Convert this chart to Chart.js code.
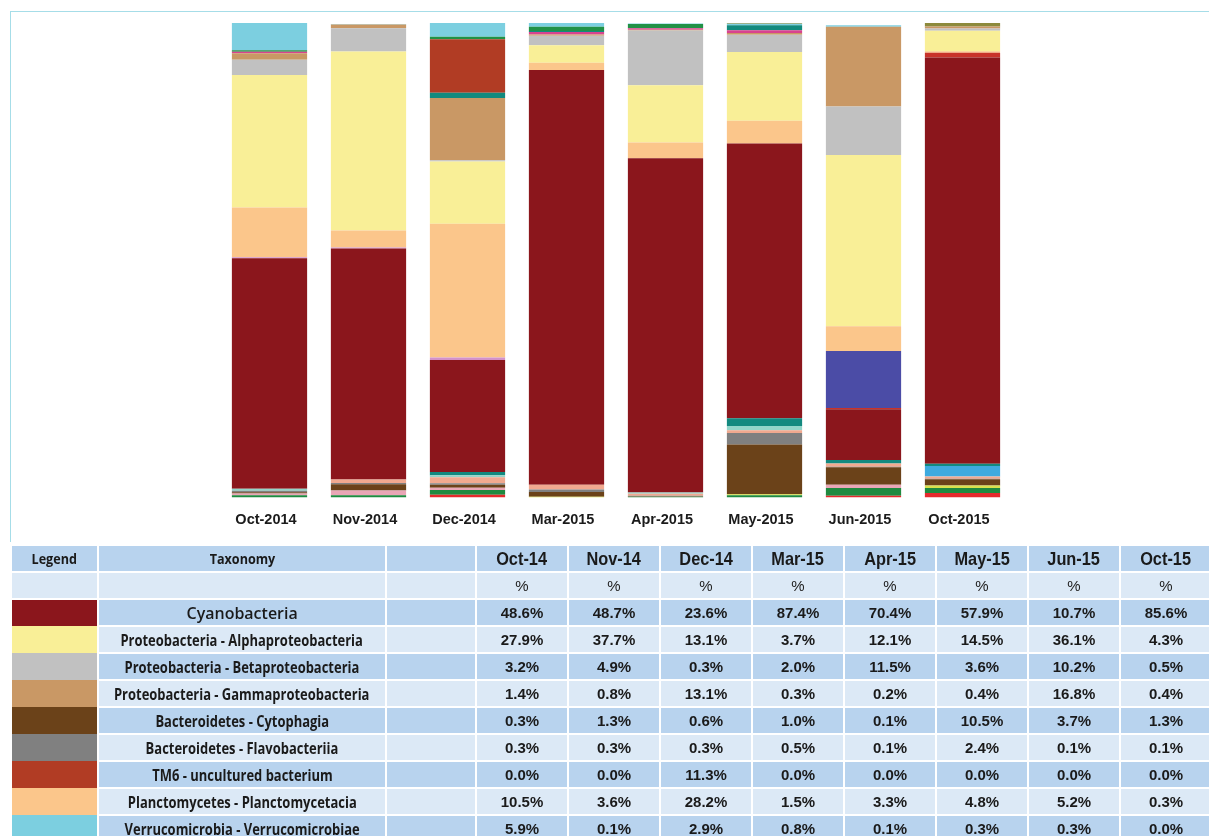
<!DOCTYPE html>
<html>
<head>
<meta charset="utf-8">
<script src="https://cdn.jsdelivr.net/npm/chart.js@4.4.0/dist/chart.umd.min.js"></script>
<style>
  body { margin: 0; background: #fff; width: 1209px; height: 836px; overflow: hidden; position: relative; font-family: "Liberation Sans", Arial, sans-serif; }
  #frame { position: absolute; left: 10px; top: 11px; width: 1199px; height: 530px; border-left: 1px solid #a6dde8; border-top: 1px solid #a6dde8; }
  #chartBox { position: absolute; left: 0; top: 0; width: 1209px; height: 556px; }
  #tbl { position: absolute; left: 10px; top: 544px; width: 1201px; border-collapse: collapse; table-layout: fixed; color: #1a1a1a; }
  #tbl td { border: 2px solid #fff; height: 25px; padding: 0; text-align: center; font-weight: bold; white-space: nowrap; overflow: hidden; }
  #tbl .dark td { background: #b8d3ee; }
  #tbl .light td { background: #dce9f6; }
  #tbl td.sw { border-top: 0; border-bottom: 0; }
  #tbl span { display: inline-block; margin: 0 -60px; }
  .hdr { font-family: "Open Sans", sans-serif; font-size: 14px; }
  .hdr span { transform: scaleX(0.9); }
  .mon { font-size: 19px; }
  .mon span { transform: scaleX(0.86); }
  .num { font-size: 15px; }
  .pct { font-weight: normal !important; color: #222; }
  .tax { font-family: "Open Sans", sans-serif; font-size: 16px; }
  .tax span { transform: scaleX(0.81); }
  .cyano { font-family: "Open Sans", sans-serif; font-size: 17px; font-weight: 600 !important; }
  .cyano span { transform: scaleX(0.94); }
</style>
</head>
<body>
<div id="frame"></div>
<div id="chartBox"><canvas id="myChart" width="1209" height="556"></canvas></div>
<table id="tbl"></table>
<script>
// sampling dates
var months = ['Oct-2014', 'Nov-2014', 'Dec-2014', 'Mar-2015', 'Apr-2015', 'May-2015', 'Jun-2015', 'Oct-2015'];
var tableMonths = ['Oct-14', 'Nov-14', 'Dec-14', 'Mar-15', 'Apr-15', 'May-15', 'Jun-15', 'Oct-15'];

// taxa listed in the table (% of reads)
var cyanobacteria    = [48.6, 48.7, 23.6, 87.4, 70.4, 57.9, 10.7, 85.6];
var alphaproteo      = [27.9, 37.7, 13.1, 3.7, 12.1, 14.5, 36.1, 4.3];
var betaproteo       = [3.2, 4.9, 0.3, 2.0, 11.5, 3.6, 10.2, 0.5];
var gammaproteo      = [1.4, 0.8, 13.1, 0.3, 0.2, 0.4, 16.8, 0.4];
var cytophagia       = [0.3, 1.3, 0.6, 1.0, 0.1, 10.5, 3.7, 1.3];
var flavobacteriia   = [0.3, 0.3, 0.3, 0.5, 0.1, 2.4, 0.1, 0.1];
var tm6              = [0.0, 0.0, 11.3, 0.0, 0.0, 0.0, 0.0, 0.0];
var planctomycetacia = [10.5, 3.6, 28.2, 1.5, 3.3, 4.8, 5.2, 0.3];
var verrucomicrobiae = [5.9, 0.1, 2.9, 0.8, 0.1, 0.3, 0.3, 0.0];

// other minor taxa seen only in the bars
var otherRed        = [0, 0, 0.6, 0, 0, 0, 0.4, 0.95];
var otherGreen      = [0.5, 0.5, 1.0, 0, 0.2, 0.5, 1.6, 1.05];
var otherLime       = [0, 0, 0, 0.2, 0, 0.2, 0, 0.55];
var otherPink       = [0.35, 1.0, 0.5, 0, 0, 0, 0.7, 0];
var otherSalmon     = [0, 0.7, 1.3, 1.0, 0.4, 0.6, 0.7, 0.5];
var otherAqua       = [0.4, 0, 0.4, 0, 0.3, 0.9, 0, 0];
var otherSky        = [0, 0, 0, 0, 0, 0, 0, 2.2];
var otherTeal       = [0, 0, 0.7, 0, 0, 1.6, 0.7, 0.5];
var otherScarlet    = [0, 0, 0, 0, 0, 0, 0.3, 1.0];
var otherViolet     = [0, 0, 0, 0, 0, 0, 12.0, 0];
var otherLilac      = [0.2, 0.2, 0.5, 0, 0, 0, 0, 0];
var otherMagenta    = [0.3, 0, 0, 0.5, 0.3, 0.55, 0, 0];
var otherTealTop    = [0, 0, 1.1, 0.2, 0, 1.1, 0, 0];
var otherGreenTop   = [0.3, 0, 0.5, 0.9, 0.9, 0, 0, 0];
var otherOlive      = [0, 0, 0, 0, 0, 0.35, 0, 0.75];

// stacking order, bottom to top
var series = [
    { label: 'Other', data: otherRed, color: '#e5292c' },
    { label: 'Other', data: otherGreen, color: '#1f8a40' },
    { label: 'Other', data: otherLime, color: '#d9e24c' },
    { label: 'Other', data: otherPink, color: '#e9a6b6' },
    { label: 'Bacteroidetes - Cytophagia', data: cytophagia, color: '#6b4219' },
    { label: 'Bacteroidetes - Flavobacteriia', data: flavobacteriia, color: '#808080' },
    { label: 'Other', data: otherSalmon, color: '#f1a98f' },
    { label: 'Other', data: otherAqua, color: '#92d5c9' },
    { label: 'Other', data: otherSky, color: '#3eaadf' },
    { label: 'Other', data: otherTeal, color: '#13897f' },
    { label: 'Cyanobacteria', data: cyanobacteria, color: '#8b161c' },
    { label: 'Other', data: otherScarlet, color: '#c8322a' },
    { label: 'Other', data: otherViolet, color: '#4b4ca6' },
    { label: 'Other', data: otherLilac, color: '#d391c8' },
    { label: 'Planctomycetes - Planctomycetacia', data: planctomycetacia, color: '#fbc68b' },
    { label: 'Proteobacteria - Alphaproteobacteria', data: alphaproteo, color: '#f9ef97' },
    { label: 'Proteobacteria - Betaproteobacteria', data: betaproteo, color: '#c1c1c1' },
    { label: 'Proteobacteria - Gammaproteobacteria', data: gammaproteo, color: '#c99865' },
    { label: 'Other', data: otherMagenta, color: '#d8438f' },
    { label: 'Other', data: otherTealTop, color: '#128a7e' },
    { label: 'TM6 - uncultured bacterium', data: tm6, color: '#b13c24' },
    { label: 'Other', data: otherGreenTop, color: '#219146' },
    { label: 'Verrucomicrobia - Verrucomicrobiae', data: verrucomicrobiae, color: '#7ccfe0' },
    { label: 'Other', data: otherOlive, color: '#8d8a3c' }
];

var ctx = document.getElementById('myChart');

var chart = new Chart(ctx, {
    type: 'bar',
    data: {
        labels: months,
        datasets: series.map(function (s) {
            return {
                label: s.label,
                data: s.data,
                backgroundColor: s.color,
                borderWidth: 0,
                barPercentage: 0.76,
                categoryPercentage: 1
            };
        })
    },
    options: {
        responsive: false,
        animation: false,
        layout: { padding: { left: 220, right: 197, top: 23, bottom: 13 } },
        plugins: { legend: { display: false }, tooltip: { enabled: false } },
        scales: {
            x: {
                stacked: true,
                grid: { display: false, drawTicks: false },
                border: { display: false },
                ticks: { padding: 14, labelOffset: -3.5, color: '#1b1b1b', font: { family: 'Liberation Sans', size: 14.5, weight: 'bold' } }
            },
            y: { stacked: true, display: false, min: 0, max: 100 }
        }
    }
});

// table under the chart, built from the same arrays
var rows = [
    ['Cyanobacteria', cyanobacteria, '#8b161c'],
    ['Proteobacteria - Alphaproteobacteria', alphaproteo, '#f9ef97'],
    ['Proteobacteria - Betaproteobacteria', betaproteo, '#c1c1c1'],
    ['Proteobacteria - Gammaproteobacteria', gammaproteo, '#c99865'],
    ['Bacteroidetes - Cytophagia', cytophagia, '#6b4219'],
    ['Bacteroidetes - Flavobacteriia', flavobacteriia, '#808080'],
    ['TM6 - uncultured bacterium', tm6, '#b13c24'],
    ['Planctomycetes - Planctomycetacia', planctomycetacia, '#fbc68b'],
    ['Verrucomicrobia - Verrucomicrobiae', verrucomicrobiae, '#7ccfe0']
];

var html = '<colgroup><col style="width:87px"><col style="width:288px"><col style="width:90px">';
for (var i = 0; i < tableMonths.length; i++) html += '<col style="width:92px">';
html += '</colgroup>';

html += '<tr class="dark"><td class="hdr"><span>Legend</span></td><td class="hdr"><span>Taxonomy</span></td><td></td>';
for (var i = 0; i < tableMonths.length; i++) html += '<td class="mon"><span>' + tableMonths[i] + '</span></td>';
html += '</tr><tr class="light"><td></td><td></td><td></td>';
for (var i = 0; i < tableMonths.length; i++) html += '<td class="num pct"><span>%</span></td>';
html += '</tr>';

for (var r = 0; r < rows.length; r++) {
    html += '<tr class="' + (r % 2 === 0 ? 'dark' : 'light') + '">';
    html += '<td class="sw" style="background:' + rows[r][2] + '"></td>';
    html += '<td class="' + (r === 0 ? 'cyano' : 'tax') + '"><span>' + rows[r][0] + '</span></td><td></td>';
    for (var c = 0; c < rows[r][1].length; c++) {
        html += '<td class="num"><span>' + rows[r][1][c].toFixed(1) + '%</span></td>';
    }
    html += '</tr>';
}
document.getElementById('tbl').innerHTML = html;
</script>
</body>
</html>
